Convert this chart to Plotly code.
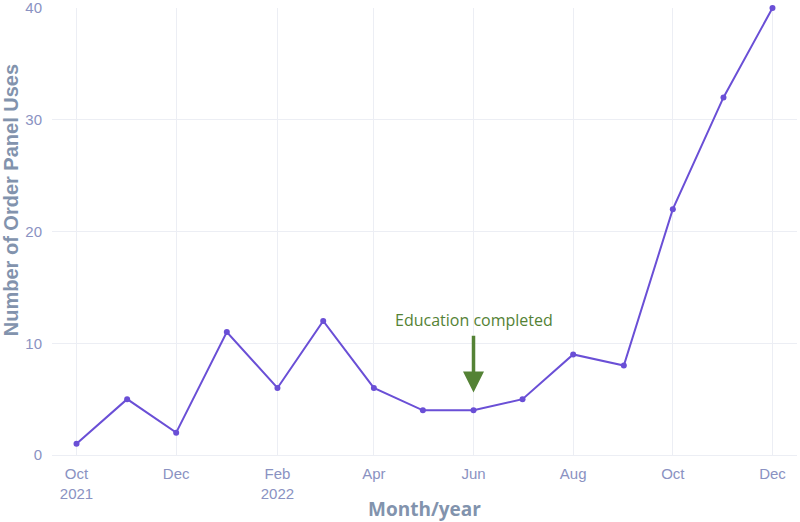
import plotly.graph_objects as go

months = ["2021-10-01", "2021-11-01", "2021-12-01", "2022-01-01", "2022-02-01",
          "2022-03-01", "2022-04-01", "2022-05-01", "2022-06-01", "2022-07-01",
          "2022-08-01", "2022-09-01", "2022-10-01", "2022-11-01", "2022-12-01"]
uses = [1, 5, 2, 11, 6, 12, 6, 4, 4, 5, 9, 8, 22, 32, 40]
y_ticks = [0, 10, 20, 30, 40]

event_date = "2022-06-01"
event_label = "Education completed"

fig = go.Figure()
fig.add_trace(go.Scatter(
    x=months, y=uses, mode="lines+markers",
    line=dict(color="#6a4fd6", width=2),
    marker=dict(color="#6a4fd6", size=6),
    showlegend=False, cliponaxis=False,
))

fig.add_annotation(
    x=event_date, y=5.6, ax=event_date, ay=10.8,
    xref="x", yref="y", axref="x", ayref="y",
    text="", showarrow=True, arrowhead=2, arrowsize=1.2, arrowwidth=3.5,
    arrowcolor="#548235",
)
fig.add_annotation(
    x=event_date, y=12.1, xref="x", yref="y", text=event_label,
    showarrow=False, font=dict(family="Open Sans", size=16, color="#548235"),
)
fig.add_annotation(
    x=0, xref="paper", xanchor="center", xshift=-41,
    y=0.57, yref="paper", yanchor="middle",
    text="<b>Number of Order Panel Uses</b>", textangle=-90, showarrow=False,
    font=dict(family="Liberation Sans, Arial", size=20, color="#8293ad"),
)

fig.update_layout(
    width=800, height=522,
    margin=dict(l=52, r=3, t=8, b=67),
    paper_bgcolor="white", plot_bgcolor="white",
    font=dict(family="Liberation Sans, Arial", size=15, color="#8a92c2"),
)
fig.update_xaxes(
    range=["2021-09-16", "2022-12-16"], automargin=False,
    dtick="M2", tick0="2021-10-01", tickformat="%b\n%Y",
    showgrid=True, gridcolor="#eceef4", zeroline=False,
    ticks="outside", ticklen=5, tickcolor="rgba(0,0,0,0)",
    tickfont=dict(size=15, color="#8a92c2"),
    title=dict(text="<b>Month/year</b>", font=dict(family="Open Sans", size=19, color="#8293ad"), standoff=6),
)
fig.update_yaxes(
    range=[0, 40], tickvals=y_ticks, automargin=False, ticklabeloverflow="allow",
    showgrid=True, gridcolor="#eceef4", zeroline=True, zerolinecolor="#eceef4", zerolinewidth=1,
    ticks="outside", ticklen=6, tickcolor="rgba(0,0,0,0)",
    tickfont=dict(size=15, color="#8a92c2"),
)

fig.write_html("out.html")
